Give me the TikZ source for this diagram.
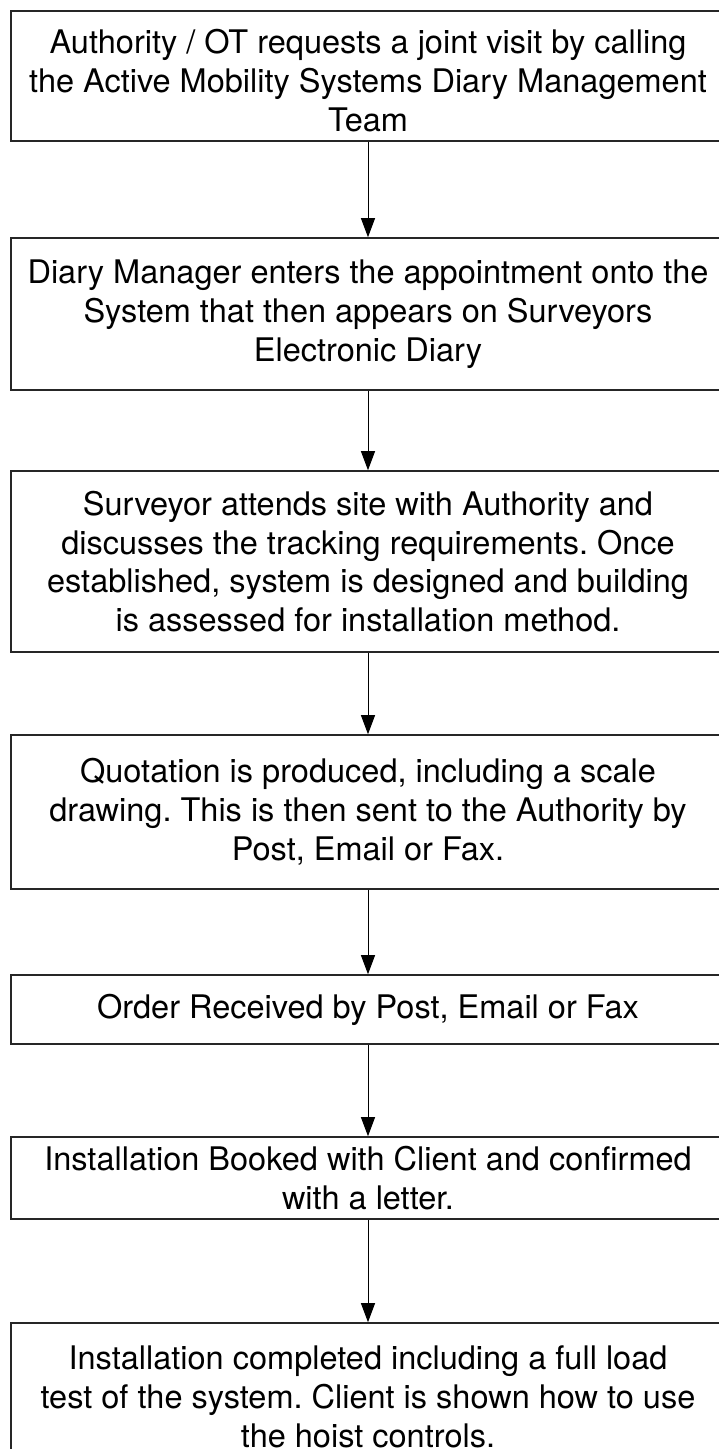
\documentclass[tikz,border=0pt]{standalone}
\usepackage{fontspec}
\setmainfont{TeX Gyre Heros}
\usetikzlibrary{arrows.meta}
\frenchspacing
\begin{document}
\begin{tikzpicture}[x=1pt,y=-1pt,
  stepbox/.style={draw=black!85,line width=1.6pt,minimum width=714pt,
    inner sep=0pt,align=center,font=\fontsize{32.5}{38.8}\selectfont},
  flow/.style={draw=black,line width=1pt,-{Triangle[length=19pt,width=14pt]}}]
\useasboundingbox (0,0) rectangle (718,1449);
\node[stepbox,minimum height=130pt] (s1) at (368,76)
  {\rule{0pt}{34pt}Authority / OT requests a joint visit by calling\\the Active Mobility Systems Diary Management\\Team};
\node[stepbox,minimum height=152pt] (s2) at (368,314)
  {Diary Manager enters the appointment onto the\\System that then appears on Surveyors\\Electronic Diary};
\node[stepbox,minimum height=181pt] (s3) at (368,561.5)
  {Surveyor attends site with Authority and\\discusses the tracking requirements. Once\\established, system is designed and building\\is assessed for installation method.};
\node[stepbox,minimum height=154pt] (s4) at (368,812)
  {Quotation is produced, including a scale\\drawing. This is then sent to the Authority by\\Post, Email or Fax.};
\node[stepbox,minimum height=69pt] (s5) at (368,1009.5)
  {Order Received by Post, Email or Fax};
\node[stepbox,minimum height=82pt] (s6) at (368,1178)
  {Installation Booked with Client and confirmed\\with a letter.};
\node[stepbox,minimum height=148pt] (s7) at (368,1397)
  {Installation completed including a full load\\test of the system. Client is shown how to use\\the hoist controls.};
\foreach \a/\b in {s1/s2,s2/s3,s3/s4,s4/s5,s5/s6,s6/s7}
  \draw[flow] (\a.south) -- (\b.north);
\end{tikzpicture}
\end{document}
